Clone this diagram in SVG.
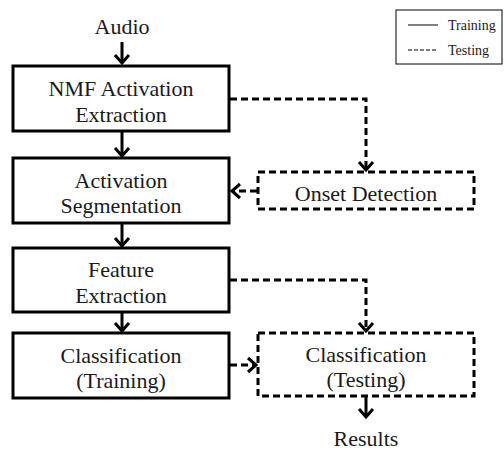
<svg xmlns="http://www.w3.org/2000/svg" width="504" height="450" viewBox="0 0 504 450">
<style>
.box{fill:#fff;stroke:#000;stroke-width:3}
.dbox{fill:#fff;stroke:#000;stroke-width:3;stroke-dasharray:7 4}
.t{font-family:"Liberation Serif","Times New Roman",serif;font-size:22px;fill:#1a1a1a;text-anchor:middle}
.lt{font-family:"Liberation Serif","Times New Roman",serif;font-size:14px;fill:#1a1a1a}
.s{fill:none;stroke:#000;stroke-width:3}
.d{fill:none;stroke:#000;stroke-width:3;stroke-dasharray:7 4}
</style>
<defs>
<marker id="ah" markerUnits="userSpaceOnUse" markerWidth="20" markerHeight="20" viewBox="-12 -10 14 20" refX="0" refY="0" orient="auto">
<path d="M-8,-7 L0,0 L-8,7" fill="none" stroke="#000" stroke-width="3"/>
</marker>
</defs>
<g id="legend">
<rect x="396" y="10" width="106" height="54" fill="#fff" stroke="#000" stroke-width="1"/>
<line x1="408" y1="25" x2="438" y2="25" stroke="#000" stroke-width="1"/>
<line x1="408" y1="50" x2="438" y2="50" stroke="#000" stroke-width="1" stroke-dasharray="4 2"/>
<text class="lt" x="448" y="30">Training</text>
<text class="lt" x="448" y="55">Testing</text>
</g>
<g id="connectors">
<line class="s" x1="122" y1="42" x2="122" y2="63" marker-end="url(#ah)"/>
<line class="s" x1="122" y1="131" x2="122" y2="156" marker-end="url(#ah)"/>
<line class="s" x1="122" y1="223" x2="122" y2="246" marker-end="url(#ah)"/>
<line class="s" x1="122" y1="312" x2="122" y2="331" marker-end="url(#ah)"/>
<polyline class="d" points="230,99 366,99 366,170" marker-end="url(#ah)"/>
<line class="d" x1="257" y1="191" x2="232" y2="191" marker-end="url(#ah)"/>
<polyline class="d" points="230,280 366,280 366,331" marker-end="url(#ah)"/>
<line class="d" x1="230" y1="365" x2="256" y2="365" marker-end="url(#ah)"/>
<line class="s" x1="366" y1="397" x2="366" y2="417" marker-end="url(#ah)"/>
</g>
<g id="audio"><text class="t" x="122" y="34">Audio</text></g>
<g id="nmf">
<rect class="box" x="13" y="66" width="216" height="65"/>
<text class="t" x="121" y="96">NMF Activation</text>
<text class="t" x="121" y="122">Extraction</text>
</g>
<g id="segmentation">
<rect class="box" x="13" y="158" width="216" height="65"/>
<text class="t" x="121" y="188">Activation</text>
<text class="t" x="121" y="213">Segmentation</text>
</g>
<g id="onset">
<rect class="dbox" x="258" y="172" width="216" height="37"/>
<text class="t" x="366" y="201">Onset Detection</text>
</g>
<g id="feature">
<rect class="box" x="13" y="248" width="216" height="64"/>
<text class="t" x="121" y="277">Feature</text>
<text class="t" x="121" y="303">Extraction</text>
</g>
<g id="cls-train">
<rect class="box" x="13" y="333" width="216" height="65"/>
<text class="t" x="121" y="363">Classification</text>
<text class="t" x="121" y="388">(Training)</text>
</g>
<g id="cls-test">
<rect class="dbox" x="258" y="333" width="216" height="63"/>
<text class="t" x="366" y="362">Classification</text>
<text class="t" x="366" y="387">(Testing)</text>
</g>
<g id="results"><text class="t" x="366" y="446">Results</text></g>
</svg>
